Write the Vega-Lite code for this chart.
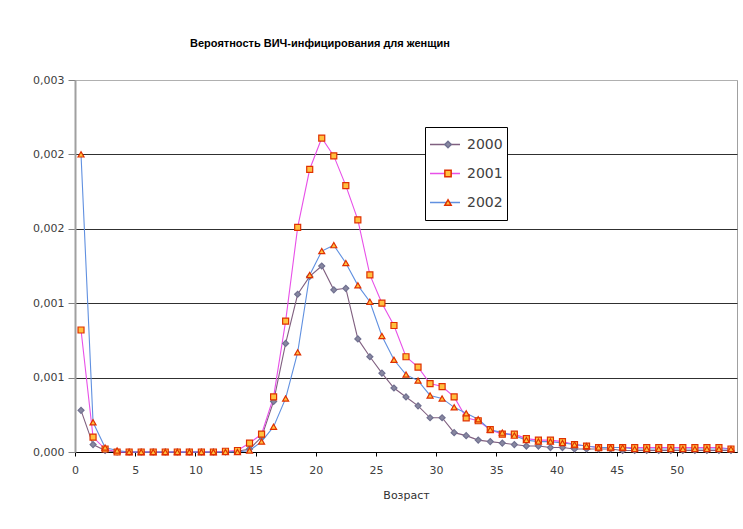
{
  "$schema": "https://vega.github.io/schema/vega-lite/v6.json",
  "autosize": "none",
  "width": 662,
  "height": 372,
  "padding": {"left": 75, "top": 80, "right": 6, "bottom": 77},
  "background": "white",
  "title": {"text": "Вероятность ВИЧ-инфицирования для женщин", "font": "Liberation Sans", "fontSize": 11, "fontWeight": "bold", "color": "black", "anchor": "middle", "dx": -86, "offset": 25},
  "config": {
    "view": {"stroke": "#a0a0a0", "strokeWidth": 1},
    "axis": {"labelFont": "DejaVu Sans", "titleFont": "DejaVu Sans", "labelColor": "#404040", "titleColor": "#303030"}
  },
  "data": {"values": [
    {"age": 0, "2000": 0.00028, "2001": 0.00082, "2002": 0.00200},
    {"age": 1, "2000": 0.00005, "2001": 0.00010, "2002": 0.00020},
    {"age": 2, "2000": 0.00001, "2001": 0.00002, "2002": 0.00003},
    {"age": 3, "2000": 0, "2001": 0, "2002": 0.00001},
    {"age": 4, "2000": 0, "2001": 0, "2002": 0},
    {"age": 5, "2000": 0, "2001": 0, "2002": 0},
    {"age": 6, "2000": 0, "2001": 0, "2002": 0},
    {"age": 7, "2000": 0, "2001": 0, "2002": 0},
    {"age": 8, "2000": 0, "2001": 0, "2002": 0},
    {"age": 9, "2000": 0, "2001": 0, "2002": 0},
    {"age": 10, "2000": 0, "2001": 0, "2002": 0},
    {"age": 11, "2000": 0, "2001": 0, "2002": 0},
    {"age": 12, "2000": 0, "2001": 0.000005, "2002": 0},
    {"age": 13, "2000": 0.000005, "2001": 0.00001, "2002": 0},
    {"age": 14, "2000": 0.00002, "2001": 0.00006, "2002": 0.00001},
    {"age": 15, "2000": 0.00010, "2001": 0.00012, "2002": 0.00007},
    {"age": 16, "2000": 0.00034, "2001": 0.00037, "2002": 0.00017},
    {"age": 17, "2000": 0.00073, "2001": 0.00088, "2002": 0.00036},
    {"age": 18, "2000": 0.00106, "2001": 0.00151, "2002": 0.00067},
    {"age": 19, "2000": 0.00118, "2001": 0.00190, "2002": 0.00119},
    {"age": 20, "2000": 0.00125, "2001": 0.00211, "2002": 0.00135},
    {"age": 21, "2000": 0.00109, "2001": 0.00199, "2002": 0.00139},
    {"age": 22, "2000": 0.00110, "2001": 0.00179, "2002": 0.00127},
    {"age": 23, "2000": 0.00076, "2001": 0.00156, "2002": 0.00112},
    {"age": 24, "2000": 0.00064, "2001": 0.00119, "2002": 0.00101},
    {"age": 25, "2000": 0.00053, "2001": 0.00100, "2002": 0.00078},
    {"age": 26, "2000": 0.00043, "2001": 0.00085, "2002": 0.00062},
    {"age": 27, "2000": 0.00037, "2001": 0.00064, "2002": 0.00052},
    {"age": 28, "2000": 0.00031, "2001": 0.00057, "2002": 0.00048},
    {"age": 29, "2000": 0.00023, "2001": 0.00046, "2002": 0.00038},
    {"age": 30, "2000": 0.00023, "2001": 0.00044, "2002": 0.00036},
    {"age": 31, "2000": 0.00013, "2001": 0.00037, "2002": 0.00030},
    {"age": 32, "2000": 0.00011, "2001": 0.00023, "2002": 0.00026},
    {"age": 33, "2000": 0.00008, "2001": 0.00021, "2002": 0.00022},
    {"age": 34, "2000": 0.00007, "2001": 0.00015, "2002": 0.00015},
    {"age": 35, "2000": 0.00006, "2001": 0.00012, "2002": 0.00013},
    {"age": 36, "2000": 0.00005, "2001": 0.00012, "2002": 0.00011},
    {"age": 37, "2000": 0.00004, "2001": 0.00009, "2002": 0.00008},
    {"age": 38, "2000": 0.00004, "2001": 0.00008, "2002": 0.00007},
    {"age": 39, "2000": 0.00003, "2001": 0.00008, "2002": 0.00007},
    {"age": 40, "2000": 0.00003, "2001": 0.00007, "2002": 0.00006},
    {"age": 41, "2000": 0.00002, "2001": 0.00005, "2002": 0.00005},
    {"age": 42, "2000": 0.00002, "2001": 0.00004, "2002": 0.00004},
    {"age": 43, "2000": 0.00002, "2001": 0.00003, "2002": 0.00003},
    {"age": 44, "2000": 0.00002, "2001": 0.00003, "2002": 0.00003},
    {"age": 45, "2000": 0.00001, "2001": 0.00003, "2002": 0.00003},
    {"age": 46, "2000": 0.00001, "2001": 0.00003, "2002": 0.00002},
    {"age": 47, "2000": 0.00001, "2001": 0.00003, "2002": 0.00002},
    {"age": 48, "2000": 0.00001, "2001": 0.00003, "2002": 0.00002},
    {"age": 49, "2000": 0.00001, "2001": 0.00003, "2002": 0.00002},
    {"age": 50, "2000": 0.00001, "2001": 0.00003, "2002": 0.00002},
    {"age": 51, "2000": 0.00001, "2001": 0.00003, "2002": 0.00002},
    {"age": 52, "2000": 0.00001, "2001": 0.00003, "2002": 0.00002},
    {"age": 53, "2000": 0.00001, "2001": 0.00003, "2002": 0.00002},
    {"age": 54, "2000": 0.00001, "2001": 0.00002, "2002": 0.00002}
  ]},
  "transform": [{"fold": ["2000", "2001", "2002"], "as": ["series", "value"]}],
  "encoding": {
    "x": {"field": "age", "type": "quantitative",
      "scale": {"domain": [-0.5, 54.5], "nice": false, "zero": false},
      "axis": {"values": [0, 5, 10, 15, 20, 25, 30, 35, 40, 45, 50], "grid": false, "title": "Возраст", "titleFontSize": 11, "titleFontWeight": "normal", "titlePadding": 14, "labelFontSize": 11, "labelPadding": 8, "tickSize": 4, "tickColor": "black", "tickOffset": -6, "domainColor": "black", "domainWidth": 1, "labelFlush": false}},
    "y": {"field": "value", "type": "quantitative",
      "scale": {"domain": [0, 0.0025], "nice": false},
      "axis": {"values": [0, 0.0005, 0.001, 0.0015, 0.002, 0.0025], "labelExpr": "replace(format(datum.value, '.3f'), '.', ',')", "title": null, "labelFontSize": 11, "labelPadding": 4, "tickSize": 7, "tickColor": "#808080", "domainColor": "#a0a0a0", "domainWidth": 2, "grid": true, "gridColor": {"condition": {"test": "datum.value >= 0.0025", "value": "#b0b0b0"}, "value": "#303030"}, "gridWidth": 1.2, "labelFlush": false}}
  },
  "layer": [
    {
      "mark": {"type": "line", "strokeWidth": 1.1},
      "encoding": {
        "color": {"field": "series", "type": "nominal",
          "scale": {"domain": ["2000", "2001", "2002"], "range": ["#806080", "#e850e8", "#6090e0"]},
          "legend": {"orient": "none", "legendX": 350, "legendY": 47, "title": null, "strokeColor": "black", "fillColor": "white", "padding": 4, "symbolType": "stroke", "symbolSize": 900, "symbolStrokeWidth": 1.5, "labelFontSize": 14, "labelFont": "DejaVu Sans", "labelColor": "#404040", "labelOffset": 6, "clipHeight": 27, "labelExpr": "datum.label + '\u00a0\u00a0\u00a0'"}}
      }
    },
    {
      "mark": {"type": "point", "filled": true, "opacity": 1, "strokeWidth": 1.2, "size": 36},
      "encoding": {
        "shape": {"field": "series", "type": "nominal",
          "scale": {"range": ["diamond", "square", "triangle-up"]},
          "legend": {"orient": "none", "legendX": 350, "legendY": 47, "title": null, "padding": 4, "symbolSize": 40, "labelFontSize": 14, "labelExpr": "''", "labelOffset": 6, "clipHeight": 27, "symbolOffset": 12}},
        "fill": {"field": "series", "type": "nominal",
          "scale": {"range": ["#8888a0", "#ffc040", "#ffc040"]},
          "legend": {"orient": "none", "legendX": 350, "legendY": 47, "title": null, "padding": 4, "symbolSize": 40, "labelFontSize": 14, "labelExpr": "''", "labelOffset": 6, "clipHeight": 27, "symbolOffset": 12}},
        "stroke": {"field": "series", "type": "nominal",
          "scale": {"range": ["#707090", "#e03000", "#e03000"]},
          "legend": {"orient": "none", "legendX": 350, "legendY": 47, "title": null, "padding": 4, "symbolSize": 40, "labelFontSize": 14, "labelExpr": "''", "labelOffset": 6, "clipHeight": 27, "symbolOffset": 12}}
      }
    }
  ]
}
